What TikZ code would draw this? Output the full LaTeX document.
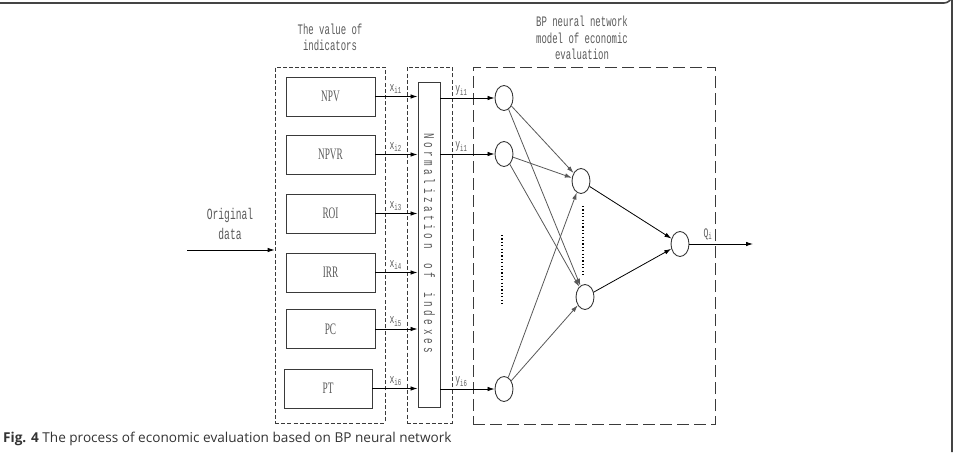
\documentclass[tikz,border=0pt]{standalone}
\usepackage{fontspec}
\setmainfont{Liberation Serif}
\setmonofont{Liberation Mono}
\newfontfamily\capfont{Open Sans}
\newfontfamily\dmono[FakeStretch=0.62]{Liberation Mono}
\newfontfamily\dserif[FakeStretch=0.58]{Liberation Serif}
\usetikzlibrary{arrows.meta,shapes.geometric,calc}
\definecolor{txtgray}{HTML}{5A5A5A}
\definecolor{linegray}{HTML}{3A3A3A}
\definecolor{framegray}{HTML}{444444}
\newcommand{\lsp}{\hspace{3.6pt}}
\begin{document}
\begin{tikzpicture}[x=1pt,y=-1pt,
  ibox/.style={draw=linegray,line width=0.9pt,rectangle,minimum width=89pt,minimum height=39pt,inner sep=0pt,font=\dserif\fontsize{16}{18}\selectfont,text=txtgray},
  sdash/.style={draw=linegray,line width=0.8pt,dash pattern=on 4pt off 2.2pt,rectangle,inner sep=0pt},
  ldash/.style={draw=linegray,line width=0.8pt,dash pattern=on 12pt off 5pt,rectangle,inner sep=0pt},
  neuron/.style={draw=linegray,line width=0.9pt,ellipse,minimum width=18pt,minimum height=25pt,inner sep=0pt},
  arr/.style={draw=black,line width=0.8pt,-{Latex[length=7pt,width=4.5pt]}},
  garr/.style={draw=linegray!85,line width=0.8pt,-{Latex[length=7pt,width=4.5pt]}},
  lbl/.style={font=\dmono\fontsize{14.5}{16.5}\selectfont,text=txtgray,inner sep=0pt},
  sublbl/.style={font=\dmono\fontsize{13}{14}\selectfont,text=txtgray,inner sep=0pt},
  dots/.style={draw=black,line width=1.6pt,dash pattern=on 1.1pt off 2.3pt}
]
\useasboundingbox (0,0) rectangle (957,452);
% frame
\draw[framegray,line width=1.6pt] (0,3) -- (944,3) arc[start angle=90,end angle=0,radius=8] -- (952,452);

% dashed containers
\node[sdash,minimum width=110pt,minimum height=356pt] (ind) at (330,245) {};
\node[sdash,minimum width=45pt,minimum height=356pt] (normd) at (429.5,245) {};
\node[ldash,minimum width=242pt,minimum height=357pt] (bp) at (594,245.5) {};

% titles
\node[lbl,align=center] (t1) at (330,37.5) {The value of\\indicators};
\node[lbl,align=center] (t2) at (582,38) {BP neural network\\model of economic\\evaluation};

% normalization bar
\node[draw=linegray,line width=0.9pt,rectangle,minimum width=22pt,minimum height=325pt,inner sep=0pt] (normr) at (429,244.5) {};
\node[font=\dmono\fontsize{15}{16}\selectfont,text=txtgray,rotate=-90,inner sep=0pt] (ntext) at (429.5,243) {N\lsp o\lsp r\lsp m\lsp a\lsp l\lsp i\lsp z\lsp a\lsp t\lsp i\lsp o\lsp n\lsp\lsp\lsp\lsp o\lsp f\lsp\lsp\lsp\lsp i\lsp n\lsp d\lsp e\lsp x\lsp e\lsp s};

% indicator boxes
\node[ibox] (npv) at (330.5,96.5) {NPV};
\node[ibox] (npvr) at (330.5,154.5) {NPVR};
\node[ibox] (roi) at (330.5,213.5) {ROI};
\node[ibox] (irr) at (330.5,272.5) {IRR};
\node[ibox] (pc) at (330.5,329) {PC};
\node[ibox,minimum width=88pt] (pt) at (328,388.5) {PT};

% original data
\node[lbl,align=center,font=\dmono\fontsize{15.5}{20}\selectfont] (orig) at (230,224) {Original\\data};
\coordinate (origin) at (187,250);
\draw[arr] (origin) -- (origin -| ind.west);

% x arrows
\foreach \b/\s in {npv/1,npvr/2,roi/3,irr/4,pc/5,pt/6}{
  \draw[arr] (\b.east) -- (\b.east -| normr.west);
  \node[sublbl,anchor=south] at ($(\b.east -| normd.west)+(-11,-2.5)$) {x\textsubscript{i\s}};
}

% neurons
\node[neuron] (i1) at (504,98) {};
\node[neuron] (i2) at (504,154) {};
\node[neuron] (i6) at (504,389) {};
\node[neuron] (h1) at (581,181) {};
\node[neuron] (h2) at (585,297) {};
\node[neuron] (o) at (680,244) {};

% y arrows
\draw[arr] (normr.east |- i1) -- (i1.west);
\draw[arr] (normr.east |- i2) -- (i2.west);
\draw[arr] (normr.east |- i6) -- (i6.west);
\node[sublbl,anchor=south] at ($(normr.east |- i1)+(21,-2.5)$) {y\textsubscript{i1}};
\node[sublbl,anchor=south] at ($(normr.east |- i2)+(21,-2.5)$) {y\textsubscript{i1}};
\node[sublbl,anchor=south] at ($(normr.east |- i6)+(21,-2.5)$) {y\textsubscript{i6}};

% connections
\draw[garr] (i1) -- (h1);
\draw[garr] (i1) -- (h2);
\draw[garr] (i2) -- (h1);
\draw[garr] (i2) -- (h2);
\draw[garr] (i6) -- (h1);
\draw[garr] (i6) -- (h2);
\draw[arr] (h1) -- (o);
\draw[arr] (h2) -- (o);

% output
\coordinate (out) at (753,244);
\draw[arr] (o.east) -- (out);
\node[sublbl,anchor=south] at (708,240) {Q\textsubscript{i}};

% dots
\draw[dots] (502,235) -- (502,306);
\draw[dots] (583,206) -- (583,276);

% caption
\node[anchor=base west,inner sep=0pt,font=\capfont\fontsize{13.6}{15}\selectfont,text=black!80] (cap) at (3,442) {\textbf{Fig. 4} The process of economic evaluation based on BP neural network};
\end{tikzpicture}
\end{document}
